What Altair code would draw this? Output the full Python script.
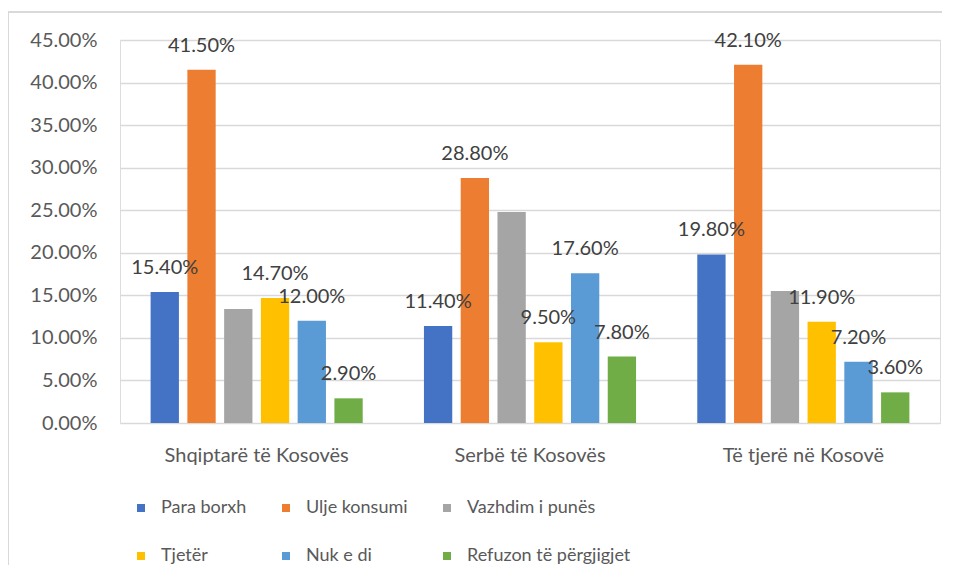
import altair as alt
import pandas as pd

groups = ["Shqiptarë të Kosovës", "Serbë të Kosovës", "Të tjerë në Kosovë"]
series = ["Para borxh", "Ulje konsumi", "Vazhdim i punës", "Tjetër", "Nuk e di", "Refuzon të përgjigjet"]
colors = ["#4472C4", "#ED7D31", "#A5A5A5", "#FFC000", "#5B9BD5", "#70AD47"]

para_borxh = [0.154, 0.114, 0.198]
ulje_konsumi = [0.415, 0.288, 0.421]
vazhdim_punes = [0.134, 0.248, 0.155]
tjeter = [0.147, 0.095, 0.119]
nuk_e_di = [0.120, 0.176, 0.072]
refuzon = [0.029, 0.078, 0.036]
labelled = [True, True, False, True, True, True]

values = [para_borxh, ulje_konsumi, vazhdim_punes, tjeter, nuk_e_di, refuzon]
rows = []
for si, s in enumerate(series):
    for gi, g in enumerate(groups):
        rows.append({"group": g, "series": s, "value": values[si][gi], "labelled": labelled[si]})
df = pd.DataFrame(rows)

FONT = "Lato"
TXT = "#595959"

x = alt.X("group:N", sort=groups, title=None,
          scale=alt.Scale(paddingInner=0.224, paddingOuter=0.112),
          axis=alt.Axis(labelAngle=0, ticks=False, domain=False, labelPadding=22,
                        labelFontSize=20, labelColor=TXT, labelFont=FONT, labelLimit=400))
xo = alt.XOffset("series:N", sort=series, scale=alt.Scale(paddingInner=0.23, paddingOuter=0))
y = alt.Y("value:Q", title=None,
          scale=alt.Scale(domain=[0, 0.45], nice=False),
          axis=alt.Axis(format=".2%", values=[i * 0.05 for i in range(10)], ticks=False,
                        domain=False, labelPadding=23, labelFontSize=20, labelColor=TXT,
                        labelFont=FONT, gridColor="#d9d9d9", gridWidth=1.5))

bars = alt.Chart(df).mark_bar().encode(
    x=x, xOffset=xo, y=y,
    color=alt.Color("series:N", sort=series,
                    scale=alt.Scale(domain=series, range=colors),
                    legend=alt.Legend(title=None, orient="none", legendX=12, legendY=459,
                                      direction="horizontal", columns=3, columnPadding=30,
                                      rowPadding=30, symbolType="square", symbolSize=64,
                                      symbolStrokeWidth=0, labelFontSize=18, labelFont=FONT,
                                      labelColor=TXT, labelOffset=11, padding=0,
                                      labelLimit=400, gridAlign="each")),
)

labels = alt.Chart(df).transform_filter("datum.labelled").mark_text(
    baseline="bottom", dy=-14, fontSize=20, font=FONT, color="#404040"
).encode(
    x=x, xOffset=xo, y=y,
    text=alt.Text("value:Q", format=".2%"),
)

frame_df = pd.DataFrame({"a": [0]})
left_edge = alt.Chart(frame_df).mark_rect(color="#d9d9d9", clip=False).encode(
    x=alt.value(-113), x2=alt.value(-111), y=alt.value(-29), y2=alt.value(560)
)
top_edge = alt.Chart(frame_df).mark_rect(color="#d9d9d9", clip=False).encode(
    x=alt.value(-113), x2=alt.value(829), y=alt.value(-29), y2=alt.value(-27)
)

chart = alt.layer(bars, labels, left_edge, top_edge).properties(
    width=820, height=383,
    autosize=alt.AutoSizeParams(type="none"),
    padding={"left": 112, "top": 32, "right": 2, "bottom": 142},
).configure_view(stroke=None).configure(background="white")

chart.save("out.html", embed_options={"renderer": "svg", "actions": False})
